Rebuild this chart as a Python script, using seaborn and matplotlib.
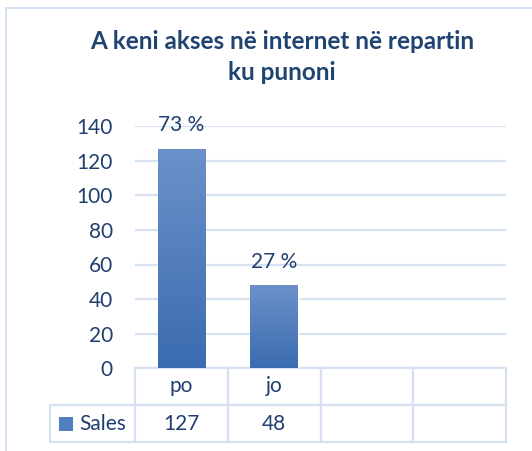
import numpy as np
import pandas as pd
import seaborn as sns
import matplotlib.pyplot as plt
from matplotlib.patches import Rectangle

# data
categories = ["po", "jo"]
table_cols = ["po", "jo", "", ""]
sales = [127, 48]
series_name = "Sales"
title = "A keni akses në internet në repartin\nku punoni"

df = pd.DataFrame({"cat": categories, "sales": sales})
total = df["sales"].sum()
df["pct"] = (df["sales"] / total * 100).round().astype(int)

sns.set_theme(style="white")
plt.rcParams["font.family"] = ["Lato", "DejaVu Sans"]

txt_col = "#1F3F6E"
grid_col = "#D6E1F2"

fig = plt.figure(figsize=(5.32, 4.51), dpi=100)
fig.patch.set_facecolor("white")
# chart frame (cropped on right/bottom)
fig.patches.append(Rectangle((6 / 532, -0.1), 1.2, 1.1 - 8.5 / 451, transform=fig.transFigure,
                             fill=False, edgecolor="#CFDDF0", lw=1.3))

ax = fig.add_axes([135 / 532, 1 - 368 / 451, 371 / 532, 241.5 / 451])
sns.barplot(data=df, x="cat", y="sales", color="#4F7FC0", width=0.51, ax=ax, zorder=3)

# vertical gradient on each bar
grad = np.linspace(0, 1, 256).reshape(-1, 1)
cmap = plt.matplotlib.colors.LinearSegmentedColormap.from_list("g", ["#3A6CB0", "#6C91C9"])
for p in ax.patches:
    x0, y0 = p.get_x(), p.get_y()
    w, h = p.get_width(), p.get_height()
    im = ax.imshow(grad, extent=[x0, x0 + w, y0, y0 + h], origin="lower", cmap=cmap,
                   aspect="auto", zorder=4)
    im.set_clip_path(p)

ax.set_xlim(-0.5, len(table_cols) - 0.5)
ax.set_ylim(0, 140)
ax.set_yticks(range(0, 141, 20))
ax.yaxis.grid(True, color=grid_col, lw=1.6, zorder=0)
ax.xaxis.grid(False)
for s in ax.spines.values():
    s.set_visible(False)
ax.tick_params(axis="y", length=0, pad=16, labelsize=15, labelcolor=txt_col)
ax.set_xticks([])
ax.set_xlabel("")
ax.set_ylabel("")

for i, (v, pc) in enumerate(zip(df["sales"], df["pct"])):
    ax.annotate(f"{pc} %", (i, v), xytext=(0, 17), textcoords="offset points",
                ha="center", va="center", fontsize=15, color=txt_col)

# data table under the plot
row_h = 37 / 241.5
lab_w = 85 / 371
col_w = 1 / len(table_cols)
cell_text = [[str(v) for v in sales] + [""] * (len(table_cols) - len(sales))]
tab = ax.table(cellText=cell_text, colLabels=table_cols, rowLabels=[series_name],
               cellLoc="center", rowLoc="right",
               bbox=[0, -2 * row_h, 1, 2 * row_h])
tab._autoColumns = []
tab.auto_set_font_size(False)
for (r, c), cell in tab.get_celld().items():
    cell.set_edgecolor(grid_col)
    cell.set_linewidth(1.6)
    cell.set_width(lab_w if c == -1 else col_w)
    cell.set_height(row_h)
    cell.get_text().set_fontsize(15)
    cell.get_text().set_color(txt_col)
    if c == -1:
        cell.PAD = 0.11
# legend key in the row label cell
ax.add_patch(Rectangle((-lab_w + 9 / 371, -2 * row_h + 11 / 241.5), 14 / 371, 14 / 241.5,
                       transform=ax.transAxes, facecolor="#4F7FC0", edgecolor="none",
                       clip_on=False, zorder=5))

fig.text(282 / 532, 1 - 57 / 451, title, ha="center", va="center", fontsize=17.5,
         fontweight="bold", color="#1F4472", linespacing=1.45)

fig.savefig("out.png", dpi=100)
